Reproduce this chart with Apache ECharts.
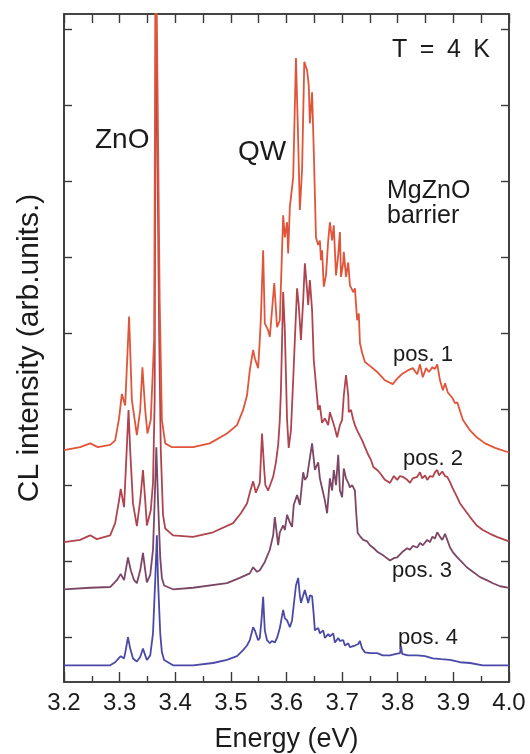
<!DOCTYPE html>
<html>
<head>
<meta charset="utf-8">
<script src="https://cdn.jsdelivr.net/npm/echarts@6/dist/echarts.min.js"></script>
<style>
  html, body { margin: 0; padding: 0; background: #ffffff; }
  #chart { width: 530px; height: 754px; }
</style>
</head>
<body>
<div id="chart"></div>
<script>
// Cathodoluminescence spectra at T = 4 K, four positions, vertically offset.
// Each entry is [photon energy (eV), intensity (arb. units, offset included)].
const pos1 = [
  [3.200, 2.46], [3.229, 2.50], [3.247, 2.55], [3.261, 2.50], [3.283, 2.53], [3.292, 2.59],
  [3.299, 2.88], [3.304, 3.20], [3.310, 3.05], [3.317, 4.22], [3.322, 3.12], [3.331, 2.66],
  [3.337, 2.99], [3.341, 3.55], [3.346, 2.99], [3.350, 2.68], [3.356, 2.86], [3.362, 3.91],
  [3.365, 9.50], [3.368, 9.50], [3.372, 4.43], [3.376, 2.86], [3.382, 2.55], [3.394, 2.50],
  [3.432, 2.50], [3.462, 2.55], [3.493, 2.68], [3.511, 2.79], [3.522, 2.99], [3.529, 3.18],
  [3.534, 3.51], [3.540, 3.78], [3.543, 3.67], [3.549, 3.54], [3.552, 3.91], [3.554, 4.21],
  [3.558, 5.09], [3.561, 4.13], [3.567, 4.04], [3.570, 3.95], [3.578, 4.66], [3.583, 4.08],
  [3.588, 4.17], [3.594, 5.55], [3.597, 5.26], [3.601, 5.46], [3.603, 5.05], [3.606, 5.66],
  [3.612, 6.05], [3.617, 7.62], [3.621, 6.54], [3.624, 5.62], [3.628, 6.15], [3.632, 7.57],
  [3.637, 7.46], [3.640, 7.26], [3.642, 6.76], [3.646, 7.17], [3.649, 6.41], [3.653, 5.26],
  [3.657, 5.16], [3.660, 5.22], [3.662, 4.96], [3.664, 5.09], [3.667, 4.61], [3.671, 4.76],
  [3.675, 5.22], [3.678, 5.46], [3.682, 5.22], [3.685, 5.42], [3.689, 4.76], [3.693, 5.03],
  [3.696, 5.33], [3.698, 4.74], [3.702, 4.93], [3.703, 5.07], [3.707, 4.74], [3.711, 4.93],
  [3.714, 4.63], [3.720, 4.54], [3.723, 4.59], [3.727, 4.17], [3.730, 4.26], [3.732, 3.87],
  [3.736, 3.74], [3.741, 3.62], [3.750, 3.57], [3.763, 3.49], [3.777, 3.38], [3.791, 3.33],
  [3.800, 3.41], [3.809, 3.47], [3.818, 3.51], [3.827, 3.54], [3.835, 3.46], [3.840, 3.59],
  [3.845, 3.42], [3.851, 3.54], [3.856, 3.49], [3.862, 3.55], [3.867, 3.53], [3.871, 3.59],
  [3.876, 3.38], [3.881, 3.25], [3.885, 3.34], [3.890, 3.22], [3.898, 3.15], [3.903, 3.08],
  [3.907, 3.09], [3.917, 2.86], [3.930, 2.72], [3.942, 2.63], [3.957, 2.55], [3.975, 2.49],
  [4.000, 2.43]
];

const pos2 = [
  [3.200, 1.25], [3.229, 1.28], [3.247, 1.34], [3.259, 1.29], [3.283, 1.34], [3.292, 1.50],
  [3.299, 1.80], [3.302, 1.95], [3.308, 1.71], [3.316, 2.99], [3.319, 2.46], [3.324, 1.76],
  [3.331, 1.46], [3.337, 1.80], [3.342, 2.20], [3.346, 1.80], [3.349, 1.47], [3.356, 1.67],
  [3.360, 2.03], [3.363, 3.12], [3.365, 8.60], [3.368, 8.60], [3.371, 4.04], [3.374, 2.46],
  [3.378, 1.61], [3.382, 1.43], [3.396, 1.34], [3.432, 1.32], [3.468, 1.38], [3.504, 1.50],
  [3.518, 1.63], [3.529, 1.76], [3.534, 1.90], [3.540, 2.05], [3.545, 1.90], [3.552, 2.03],
  [3.556, 2.68], [3.560, 2.20], [3.562, 2.00], [3.567, 1.93], [3.576, 2.11], [3.581, 2.30],
  [3.585, 2.53], [3.588, 2.86], [3.590, 3.25], [3.594, 4.54], [3.597, 4.04], [3.601, 2.86],
  [3.604, 2.49], [3.608, 2.72], [3.612, 3.38], [3.615, 3.91], [3.619, 4.59], [3.622, 4.37],
  [3.626, 3.91], [3.630, 4.43], [3.633, 4.92], [3.637, 4.57], [3.639, 4.37], [3.642, 4.70],
  [3.646, 4.30], [3.649, 3.65], [3.653, 3.32], [3.657, 2.99], [3.660, 3.05], [3.664, 2.82],
  [3.669, 2.88], [3.675, 2.79], [3.678, 2.96], [3.684, 2.82], [3.687, 2.75], [3.691, 2.63],
  [3.696, 2.79], [3.700, 2.86], [3.703, 3.18], [3.707, 3.45], [3.711, 3.18], [3.712, 2.96],
  [3.716, 2.99], [3.720, 2.86], [3.723, 2.79], [3.727, 2.72], [3.730, 2.70], [3.736, 2.59],
  [3.741, 2.50], [3.747, 2.40], [3.752, 2.33], [3.756, 2.24], [3.763, 2.20], [3.768, 2.16],
  [3.777, 2.07], [3.786, 2.03], [3.793, 2.12], [3.799, 2.07], [3.804, 2.12], [3.809, 2.11],
  [3.817, 2.07], [3.822, 2.03], [3.827, 2.09], [3.835, 2.11], [3.840, 2.17], [3.844, 2.09],
  [3.849, 2.13], [3.853, 2.07], [3.858, 2.12], [3.863, 2.11], [3.867, 2.17], [3.871, 2.20],
  [3.874, 2.13], [3.880, 2.18], [3.885, 2.12], [3.889, 2.11], [3.894, 2.04], [3.898, 1.97],
  [3.905, 1.87], [3.912, 1.76], [3.921, 1.67], [3.930, 1.58], [3.942, 1.47], [3.953, 1.41],
  [3.966, 1.36], [3.978, 1.32], [4.000, 1.26]
];

const pos3 = [
  [3.200, 0.63], [3.247, 0.65], [3.283, 0.66], [3.295, 0.75], [3.302, 0.83], [3.308, 0.75],
  [3.315, 1.05], [3.320, 0.88], [3.326, 0.75], [3.331, 0.71], [3.337, 0.88], [3.342, 1.11],
  [3.346, 0.88], [3.349, 0.72], [3.355, 0.82], [3.360, 1.15], [3.363, 1.80], [3.366, 2.50],
  [3.369, 1.80], [3.373, 1.05], [3.376, 0.78], [3.380, 0.68], [3.396, 0.63], [3.432, 0.65],
  [3.493, 0.71], [3.516, 0.78], [3.534, 0.84], [3.540, 0.92], [3.547, 0.86], [3.552, 0.88],
  [3.561, 0.99], [3.570, 1.15], [3.576, 1.34], [3.579, 1.58], [3.585, 1.21], [3.588, 1.38],
  [3.594, 1.47], [3.597, 1.41], [3.601, 1.61], [3.606, 1.51], [3.610, 1.45], [3.613, 1.74],
  [3.619, 1.87], [3.624, 1.74], [3.630, 2.17], [3.633, 2.07], [3.637, 2.11], [3.640, 2.26],
  [3.646, 2.55], [3.651, 2.20], [3.657, 2.30], [3.660, 2.09], [3.664, 1.96], [3.669, 1.80],
  [3.673, 1.63], [3.678, 2.09], [3.682, 1.93], [3.685, 2.20], [3.689, 2.00], [3.693, 2.40],
  [3.696, 1.93], [3.700, 1.84], [3.703, 2.22], [3.707, 2.09], [3.711, 2.03], [3.714, 1.97],
  [3.718, 2.00], [3.723, 1.93], [3.725, 1.67], [3.728, 1.37], [3.732, 1.33], [3.738, 1.28],
  [3.745, 1.26], [3.750, 1.21], [3.757, 1.17], [3.764, 1.12], [3.775, 1.07], [3.786, 1.01],
  [3.793, 1.04], [3.799, 1.05], [3.808, 1.12], [3.817, 1.17], [3.822, 1.15], [3.827, 1.20],
  [3.835, 1.18], [3.840, 1.24], [3.845, 1.21], [3.853, 1.28], [3.858, 1.25], [3.862, 1.32],
  [3.867, 1.30], [3.871, 1.38], [3.876, 1.32], [3.880, 1.28], [3.885, 1.36], [3.889, 1.28],
  [3.894, 1.18], [3.899, 1.12], [3.907, 1.05], [3.915, 0.99], [3.924, 0.92], [3.935, 0.86],
  [3.948, 0.79], [3.960, 0.75], [3.971, 0.71], [3.984, 0.67], [4.000, 0.65]
];

const pos4 = [
  [3.200, -0.37], [3.247, -0.37], [3.283, -0.37], [3.292, -0.33], [3.297, -0.29], [3.302, -0.25],
  [3.308, -0.28], [3.311, -0.17], [3.315, 0.00], [3.319, -0.15], [3.324, -0.28], [3.331, -0.32],
  [3.337, -0.26], [3.342, -0.15], [3.346, -0.24], [3.349, -0.30], [3.355, -0.24], [3.360, 0.05],
  [3.364, 0.75], [3.367, 1.34], [3.369, 0.75], [3.373, 0.05], [3.376, -0.20], [3.380, -0.30],
  [3.396, -0.37], [3.432, -0.37], [3.468, -0.34], [3.493, -0.30], [3.511, -0.25], [3.522, -0.17],
  [3.529, -0.11], [3.534, -0.04], [3.540, 0.13], [3.543, 0.09], [3.549, -0.04], [3.552, -0.01],
  [3.555, 0.22], [3.558, 0.53], [3.561, 0.09], [3.565, -0.04], [3.570, -0.08], [3.574, -0.05],
  [3.579, -0.07], [3.583, -0.01], [3.588, 0.12], [3.594, 0.36], [3.597, 0.25], [3.601, 0.22],
  [3.606, 0.13], [3.610, 0.22], [3.613, 0.42], [3.617, 0.68], [3.621, 0.78], [3.624, 0.55],
  [3.626, 0.45], [3.630, 0.55], [3.633, 0.62], [3.637, 0.51], [3.639, 0.45], [3.642, 0.55],
  [3.646, 0.54], [3.649, 0.29], [3.651, 0.09], [3.657, 0.12], [3.660, 0.05], [3.666, 0.09],
  [3.669, -0.01], [3.675, 0.04], [3.678, 0.01], [3.684, 0.05], [3.687, -0.07], [3.693, -0.01],
  [3.696, -0.05], [3.702, -0.04], [3.705, -0.11], [3.711, -0.08], [3.714, -0.13], [3.723, -0.11],
  [3.729, -0.09], [3.732, -0.05], [3.736, -0.15], [3.741, -0.20], [3.750, -0.21], [3.763, -0.21],
  [3.773, -0.24], [3.786, -0.24], [3.797, -0.22], [3.804, -0.21], [3.806, -0.12], [3.808, -0.22],
  [3.818, -0.24], [3.835, -0.24], [3.849, -0.25], [3.863, -0.28], [3.878, -0.29], [3.894, -0.30],
  [3.912, -0.33], [3.930, -0.34], [3.953, -0.37], [3.975, -0.37], [4.000, -0.37]
];

const seriesNames = ['pos. 1', 'pos. 2', 'pos. 3', 'pos. 4'];
const seriesColors = ['#E0553A', '#B0444E', '#7C4665', '#4B49A8'];
const intensityTicks = [0, 1, 2, 3, 4, 5, 6, 7, 8];

const FONT = '"Liberation Sans", Arial, Helvetica, sans-serif';
const INK = '#1b1b1b';
const AXIS = '#3a3a3a';

const chart = echarts.init(document.getElementById('chart'), null, { renderer: 'canvas' });

const axisLine = { show: true, onZero: false, lineStyle: { color: AXIS, width: 1.6 } };
const tickLine = { color: AXIS, width: 1.4 };

const option = {
  animation: false,
  backgroundColor: '#ffffff',
  // framed plot box at a fixed position
  grid: { left: 64, top: 14, width: 445, height: 668, containLabel: false, outerBoundsMode: 'none',
          show: true, borderColor: AXIS, borderWidth: 1.6, backgroundColor: 'transparent' },
  xAxis: [
    {
      type: 'value', position: 'bottom', min: 3.2, max: 4.0, interval: 0.1,
      axisLine,
      axisTick: { show: true, inside: true, length: 10, lineStyle: tickLine },
      minorTick: { show: true, splitNumber: 2, length: 6, lineStyle: tickLine },
      axisLabel: {
        show: true, margin: 9, color: INK, fontSize: 24, fontFamily: FONT,
        formatter: (v) => v.toFixed(1)
      },
      splitLine: { show: false },
      name: 'Energy (eV)', nameLocation: 'middle', nameGap: 44,
      nameTextStyle: { color: INK, fontSize: 27, fontFamily: FONT }
    },
    {
      type: 'value', position: 'top', min: 3.2, max: 4.0, interval: 0.05,
      axisLine,
      axisTick: { show: true, inside: true, length: 9, lineStyle: tickLine },
      axisLabel: { show: false },
      splitLine: { show: false }
    }
  ],
  yAxis: [
    {
      type: 'value', position: 'left', min: -0.59, max: 8.2,
      axisLine,
      axisTick: { show: true, inside: true, length: 8, customValues: intensityTicks, lineStyle: tickLine },
      axisLabel: { show: false },
      splitLine: { show: false },
      name: 'CL intensity (arb.units.)', nameLocation: 'middle', nameGap: 19, nameRotate: 90,
      nameTextStyle: { color: INK, fontSize: 30, fontFamily: FONT }
    },
    {
      type: 'value', position: 'right', min: -0.59, max: 8.2,
      axisLine,
      axisTick: { show: true, inside: true, length: 8, customValues: intensityTicks, lineStyle: tickLine },
      axisLabel: { show: false },
      splitLine: { show: false }
    }
  ],
  series: [pos4, pos3, pos2, pos1].map((data, i) => {
    const k = 3 - i;
    return {
      name: seriesNames[k],
      type: 'line',
      data: data,
      xAxisIndex: 0,
      yAxisIndex: 0,
      showSymbol: false,
      clip: true,
      smooth: false,
      lineStyle: { color: seriesColors[k], width: 1.8 },
      emphasis: { disabled: true }
    };
  }),
  graphic: [
    { type: 'text', style: { text: 'ZnO', x: 95, y: 140, font: '28px ' + FONT, fill: INK, textVerticalAlign: 'middle' } },
    { type: 'text', style: { text: 'QW', x: 238, y: 152, font: '28px ' + FONT, fill: INK, textVerticalAlign: 'middle' } },
    { type: 'text', style: { text: 'T\u2002=\u20024\u2002K', x: 490, y: 50, font: '25px ' + FONT, fill: INK, textAlign: 'right', textVerticalAlign: 'middle' } },
    { type: 'text', style: { text: 'MgZnO', x: 387, y: 191, font: '25px ' + FONT, fill: INK, textVerticalAlign: 'middle' } },
    { type: 'text', style: { text: 'barrier', x: 387, y: 216, font: '25px ' + FONT, fill: INK, textVerticalAlign: 'middle' } },
    { type: 'text', style: { text: seriesNames[0], x: 393, y: 355, font: '22px ' + FONT, fill: INK, textVerticalAlign: 'middle' } },
    { type: 'text', style: { text: seriesNames[1], x: 403, y: 459, font: '22px ' + FONT, fill: INK, textVerticalAlign: 'middle' } },
    { type: 'text', style: { text: seriesNames[2], x: 392, y: 571, font: '22px ' + FONT, fill: INK, textVerticalAlign: 'middle' } },
    { type: 'text', style: { text: seriesNames[3], x: 398, y: 638, font: '22px ' + FONT, fill: INK, textVerticalAlign: 'middle' } }
  ]
};

chart.setOption(option);
</script>
</body>
</html>
